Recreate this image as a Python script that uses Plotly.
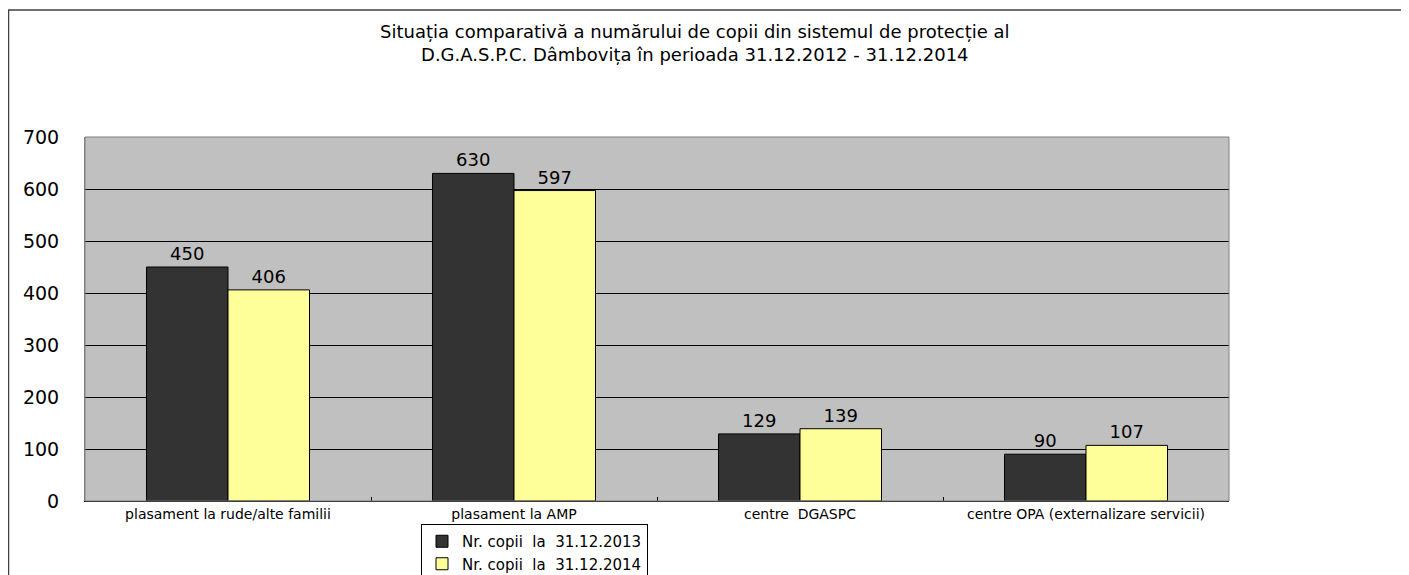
import plotly.graph_objects as go

categories = ["plasament la rude/alte familii", "plasament la AMP",
              "centre\u00a0\u00a0DGASPC", "centre OPA (externalizare servicii)"]
series_2013 = [450, 630, 129, 90]
series_2014 = [406, 597, 139, 107]
series_names = ["Nr. copii\u00a0\u00a0la\u00a0\u00a031.12.2013", "Nr. copii\u00a0\u00a0la\u00a0\u00a031.12.2014"]
y_ticks = [0, 100, 200, 300, 400, 500, 600, 700]
title_lines = ["Situația comparativă a numărului de copii din sistemul de protecție al",
               "D.G.A.S.P.C. Dâmbovița în perioada 31.12.2012 - 31.12.2014"]

W, H = 1409, 575
OFF = 8  # page body margin
L, R, T, B = 85 - OFF, 1229 - OFF, 137 - OFF, 501 - OFF
def px(x): return (x - OFF - L) / (R - L)
def py(y): return (B - (y - OFF)) / (B - T)

FONT = "DejaVu Sans, Verdana, sans-serif"

fig = go.Figure()
for name, vals, col in [(series_names[0], series_2013, "#333333"),
                        (series_names[1], series_2014, "#FFFF99")]:
    fig.add_trace(go.Bar(
        x=categories, y=vals, name=name,
        marker=dict(color=col, line=dict(color="#000000", width=1)),
        text=[str(v) for v in vals], textposition="outside",
        textfont=dict(family=FONT, size=18, color="#000000"),
        cliponaxis=False,
    ))

fig.update_layout(
    width=W, height=H,
    margin=dict(l=L, r=W - R, t=T, b=H - B, pad=0, autoexpand=False),
    paper_bgcolor="#FFFFFF", plot_bgcolor="#C0C0C0",
    barmode="group", bargap=0.43, bargroupgap=0,
    font=dict(family=FONT, color="#000000"),
    showlegend=True,
    legend=dict(x=px(421), y=py(524), xanchor="left", yanchor="top",
                bgcolor="#FFFFFF", bordercolor="#000000", borderwidth=1,
                font=dict(family=FONT, size=15, color="#000000"), tracegroupgap=0,
                itemwidth=30),
    xaxis=dict(showgrid=False, showline=True, linecolor="#000000", linewidth=1,
               ticks="inside", ticklen=4, tickcolor="#000000", tickson="boundaries",
               tickfont=dict(family=FONT, size=14, color="#000000"), mirror=False),
    yaxis=dict(range=[0, 700], tickvals=y_ticks, showgrid=True,
               gridcolor="#000000", gridwidth=1, showline=True,
               linecolor="#808080", linewidth=1, ticks="", ticklabelstandoff=21,
               tickfont=dict(family=FONT, size=19, color="#000000"), zeroline=False),
)

# plot border (top/right gray)
fig.add_shape(type="rect", xref="paper", yref="paper", x0=0, y0=0, x1=1, y1=1,
              line=dict(color="#808080", width=1), layer="above")
# outer frame
fig.add_shape(type="rect", xref="paper", yref="paper",
              x0=px(8.5), y0=py(600), x1=px(1430), y1=py(10),
              line=dict(color="#404040", width=1.5))

fig.add_annotation(
    text="<br>".join(title_lines), xref="paper", yref="paper", x=px(695), y=py(43),
    xanchor="center", yanchor="middle", showarrow=False, align="center",
    font=dict(family=FONT, size=18, color="#000000"))

fig.write_html("out.html")
